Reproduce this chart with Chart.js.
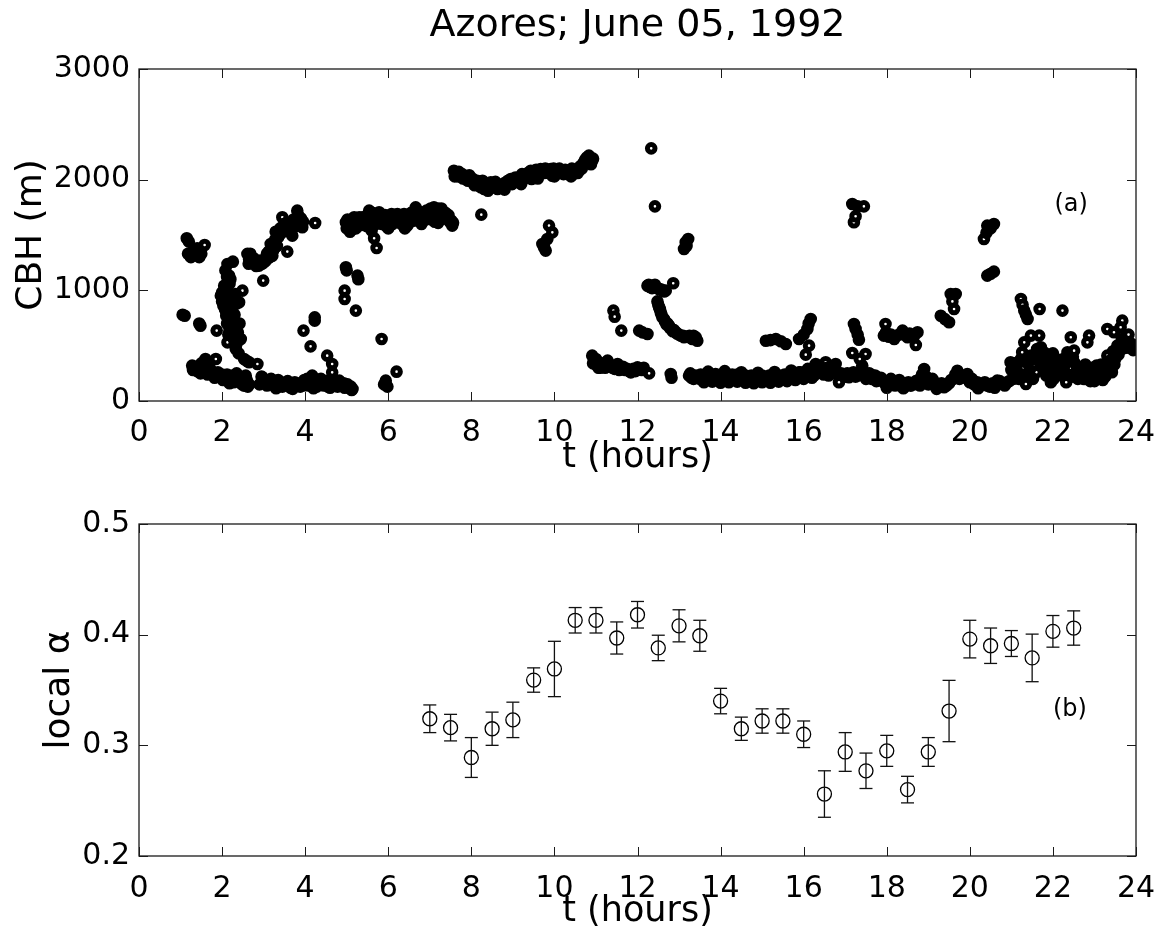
<!DOCTYPE html>
<html>
<head>
<meta charset="utf-8">
<script src="https://cdn.jsdelivr.net/npm/chart.js@4/dist/chart.umd.min.js"></script>
<style>
  html,body{margin:0;padding:0;background:#fff;}
  body{width:1159px;height:945px;overflow:hidden;position:relative;}
  #w1{position:absolute;left:0;top:0;width:1159px;height:490px;}
  #w2{position:absolute;left:0;top:490px;width:1159px;height:455px;}
</style>
</head>
<body>
<div id="w1"><canvas id="c1" width="1159" height="490"></canvas></div>
<div id="w2"><canvas id="c2" width="1159" height="455"></canvas></div>
<script>
// ---------- tick labels ----------
const hourTicks = [0,2,4,6,8,10,12,14,16,18,20,22,24];
const cbhTicks = [0,1000,2000,3000];
const alphaTicks = [0.2,0.3,0.4,0.5];

// ---------- panel (a): cloud base height, [t (hours), CBH (m)] ----------
const cbhEarly = [[1.05,780],[1.1,770],[1.15,1470],[1.2,1440],[1.18,1330],[1.25,1300],[1.3,1350],[1.35,1320],[1.4,1380],[1.45,1300],[1.5,1330],[1.58,1410],[1.48,680],[1.45,700],[1.87,636]];
const cbhLowBand1 = [[1.28,320],[1.33,300],[1.38,310],[1.45,280],[1.5,300],[1.55,270],[1.6,380],[1.62,260],[1.68,280],[1.72,250],[1.78,240],[1.85,380],[1.85,230],[1.9,260],[1.95,220],[2.0,240],[2.05,200],[2.1,210],[2.15,180],[2.2,200],[2.25,230],[2.3,190],[2.35,250],[2.4,210],[2.45,170],[2.5,200],[2.55,150],[2.6,180],[2.62,130],[1.7,300],[1.5,340],
  [1.3,280],[1.4,270],[1.48,250],[1.58,300],[1.65,240],[1.75,270],[1.82,210],[1.92,230],[2.02,190],[2.12,240],[2.18,160],[2.28,170],[2.38,180],[2.48,150],[2.58,200],[2.65,150]];
const cbhColumn = [[2.13,1238],[2.26,1259],[2.17,1133],[2.2,1100],[2.1,1050],[2.05,1042],[2.0,980],[1.97,952],[2.0,900],[2.03,862],[2.07,830],[2.1,800],[2.1,771],[2.15,740],[2.17,681],[2.2,660],[2.29,696],[2.49,997],[2.41,892],[2.33,967],[2.35,880],[2.25,850],[2.3,780],[2.22,720],[2.13,530],[2.45,560],[2.2,621],[2.15,600],[2.33,470],[2.4,430],[2.53,380],[2.6,360],[2.65,350],[2.85,335],[2.57,229],[2.53,139],[2.3,900],[2.25,960],[2.15,950],[2.05,1000],
  [2.08,1180],[2.12,1120],[2.18,1060],[2.02,940],[2.08,900],[2.12,870],[2.18,820],[2.22,780],[2.12,700],[2.18,640],[2.25,610],[2.28,560],[2.35,520],[2.38,620],[2.42,700],[2.3,650]];
const cbhRise = [[2.61,1329],[2.65,1280],[2.7,1300],[2.73,1253],[2.8,1240],[2.85,1260],[2.89,1223],[2.99,1088],[3.0,1250],[3.05,1268],[3.1,1290],[3.12,1350],[3.17,1419],[3.2,1380],[3.21,1313],[3.25,1420],[3.29,1530],[3.35,1480],[3.4,1560],[3.45,1660],[3.5,1600],[3.53,1554],[3.57,1350],[3.6,1540],[3.65,1580],[3.69,1494],[3.75,1620],[3.81,1720],[3.83,1680],[3.85,1645],[3.88,1600],[3.93,1570],[4.24,1609],
  [2.64,1240],[2.68,1330],[2.76,1290],[2.82,1220],[2.92,1270],[2.96,1240],[3.08,1330],[3.15,1300],[3.23,1360],[3.28,1460],[3.32,1400],[3.38,1500],[3.43,1520],[3.48,1560],[3.55,1610],[3.63,1530],[3.7,1570],[3.72,1640],[3.78,1580],[3.9,1650],[3.95,1620]];
const cbhLowBand2 = [[2.9,150],[2.95,220],[2.97,214],[3.05,170],[3.1,150],[3.15,180],[3.2,160],[3.25,180],[3.3,150],[3.37,154],[3.42,170],[3.5,140],[3.55,160],[3.61,139],[3.68,150],[3.75,170],[3.8,140],[3.85,154],[3.9,160],[3.95,140],[4.01,169],[4.05,200],[4.1,180],[4.17,229],[4.2,150],[4.25,180],[4.33,154],[4.4,170],[4.45,140],[4.5,180],[4.57,169],[4.62,150],[4.7,140],[4.75,170],[4.82,184],[4.88,140],[4.93,160],[4.98,139],[5.05,120],[5.1,130],[5.14,109],[4.53,410],[4.65,335],[4.65,259],
  [3.0,190],[3.08,140],[3.18,200],[3.28,130],[3.35,190],[3.45,130],[3.58,180],[3.65,120],[3.72,140],[3.88,130],[3.98,190],[4.08,140],[4.15,190],[4.28,130],[4.38,200],[4.48,160],[4.55,130],[4.68,180],[4.78,130],[4.85,160],[4.95,120],[5.02,150],[5.12,100]];
const cbhScatter1 = [[3.96,636],[4.13,494],[4.23,726],[4.23,756],[4.98,1208],[5.0,1180],[5.26,1133],[5.28,1100],[4.95,997],[4.95,922],[5.22,817],[5.84,560],[5.94,184],[5.9,150],[5.98,130],[6.2,265]];
const cbhBandMid = [[4.98,1615],[5.0,1560],[5.05,1580],[5.1,1620],[5.14,1554],[5.2,1600],[5.25,1640],[5.3,1660],[5.35,1590],[5.4,1620],[5.45,1650],[5.5,1610],[5.54,1720],[5.6,1640],[5.65,1680],[5.7,1600],[5.78,1705],[5.82,1630],[5.88,1660],[5.94,1585],[5.98,1615],[6.05,1640],[6.1,1600],[6.15,1660],[6.22,1690],[6.28,1620],[6.35,1650],[6.4,1600],[6.46,1585],[6.52,1640],[6.58,1680],[6.66,1750],[6.72,1660],[6.8,1700],[6.86,1660],[6.92,1720],[7.0,1690],[7.05,1640],[7.1,1750],[7.15,1700],[7.2,1740],[7.25,1680],[7.3,1705],[7.35,1660],[7.42,1645],[7.48,1620],[7.54,1585],[5.66,1470],[5.72,1383],
  [5.02,1640],[5.08,1530],[5.18,1660],[5.22,1560],[5.32,1610],[5.38,1660],[5.48,1580],[5.52,1670],[5.58,1600],[5.62,1700],[5.75,1640],[5.85,1600],[5.92,1680],[6.02,1590],[6.08,1690],[6.18,1620],[6.25,1650],[6.32,1600],[6.38,1690],[6.44,1640],[6.5,1610],[6.55,1700],[6.62,1630],[6.7,1720],[6.75,1640],[6.83,1680],[6.9,1640],[6.96,1700],[7.02,1740],[7.08,1680],[7.12,1620],[7.18,1690],[7.22,1650],[7.28,1740],[7.38,1700],[7.45,1680],[7.52,1630],[7.56,1610]];
const cbhBandHigh = [[8.24,1684],[7.58,2081],[7.62,2050],[7.68,2030],[7.74,2036],[7.8,2010],[7.85,2030],[7.92,1990],[7.98,2006],[8.05,1970],[8.1,1990],[8.17,1950],[8.23,1931],[8.3,1960],[8.31,1916],[8.38,1940],[8.47,1976],[8.55,1950],[8.63,1916],[8.71,1946],[8.8,1970],[8.88,1990],[8.95,2006],[9.02,1980],[9.1,2010],[9.19,2021],[9.25,2000],[9.32,2040],[9.43,2081],[9.45,2006],[9.52,2050],[9.6,2070],[9.67,2096],[9.75,2060],[9.82,2080],[9.91,2096],[9.95,2036],[10.02,2070],[10.1,2090],[10.15,2081],[10.22,2050],[10.3,2080],[10.39,2081],[10.45,2050],[10.52,2090],[10.59,2081],[10.62,2120],[10.71,2157],[10.78,2200],[10.83,2217],[10.91,2172],[10.88,2140],[9.87,1585],[9.95,1524],[9.83,1464],[9.71,1419],[9.79,1359],[9.75,1390],
  [7.6,2030],[7.7,2070],[7.78,2050],[7.88,2000],[7.95,2040],[8.02,2010],[8.08,1950],[8.14,1990],[8.2,1960],[8.27,1990],[8.35,1920],[8.42,1960],[8.5,1930],[8.58,1980],[8.66,1950],[8.75,1930],[8.84,1960],[8.92,1980],[8.98,1960],[9.06,2020],[9.14,1990],[9.22,2050],[9.28,2020],[9.36,2060],[9.4,2030],[9.48,2060],[9.56,2090],[9.63,2050],[9.7,2080],[9.78,2100],[9.86,2060],[9.98,2100],[10.06,2060],[10.12,2100],[10.18,2060],[10.26,2090],[10.34,2060],[10.42,2100],[10.48,2070],[10.56,2060],[10.66,2100],[10.74,2180],[10.8,2160],[10.86,2200],[10.93,2190]];
const cbhMidday = [[10.91,410],[10.95,370],[11.03,320],[11.1,300],[11.18,330],[11.28,365],[11.35,310],[11.45,290],[11.52,335],[11.6,300],[11.7,280],[11.84,259],[11.9,290],[11.42,817],[11.45,762],[11.61,636],[12.0,304],[12.05,290],[12.1,280],[12.15,300],[12.28,250],[12.33,2283],[12.42,1759],[13.16,1434],[13.12,1374],[13.22,1464],[13.18,1400],[12.24,1042],[12.3,1030],[12.38,1040],[12.44,1027],[12.52,1010],[12.6,1000],[12.68,997],[12.86,1064],[12.04,636],[12.12,620],[12.24,606],[12.5,870],[12.52,847],[12.56,800],[12.6,756],[12.66,720],[12.72,700],[12.76,681],[12.82,650],[12.88,640],[12.92,621],[13.0,600],[13.05,590],[13.12,576],[13.2,580],[13.28,570],[13.35,590],[13.4,576],[13.44,545],
  [10.93,340],[11.0,380],[11.06,300],[11.14,340],[11.22,300],[11.3,330],[11.4,300],[11.48,320],[11.56,280],[11.65,310],[11.75,290],[11.8,270],[11.95,270],
  [12.48,900],[12.54,830],[12.58,780],[12.64,740],[12.7,690],[12.78,660],[12.85,630],[12.95,610],[13.1,590],[13.25,590],[13.32,560],[13.38,560],
  [12.27,1050],[12.35,1020],[12.42,1050],[12.48,1020],[12.56,1010],[12.64,990]];
const cbhLowBand3 = [[12.8,244],[12.82,210],[13.24,229],[13.3,210],[13.4,230],[13.5,200],[13.56,214],[13.65,230],[13.72,200],[13.8,220],[13.88,244],[13.95,210],[14.05,230],[14.12,200],[14.2,214],[14.28,240],[14.35,200],[14.45,220],[14.53,199],[14.6,230],[14.7,210],[14.78,190],[14.85,184],[14.92,210],[15.0,230],[15.08,200],[15.17,229],[15.25,210],[15.33,205],[15.4,230],[15.5,210],[15.57,229],[15.65,240],[15.72,210],[15.8,250],[15.89,259],[15.95,230],[16.05,260],[16.13,244],[16.2,210],[16.29,335],[16.35,300],[16.45,270],[16.53,350],[16.6,230],[16.7,280],[16.77,335],[16.85,169],[16.9,250],[17.0,220],[17.09,214],[17.2,260],[17.3,230],[17.41,290],[17.5,200],[17.58,250],[17.65,199],[17.72,230],[17.8,210],
  [13.27,250],[13.35,200],[13.45,220],[13.52,240],[13.6,200],[13.68,220],[13.76,240],[13.84,205],[13.92,230],[14.0,200],[14.08,240],[14.16,220],[14.24,195],[14.32,225],[14.4,240],[14.48,205],[14.56,220],[14.65,195],[14.74,230],[14.82,205],[14.88,225],[14.96,195],[15.04,220],[15.12,210],[15.2,195],[15.28,235],[15.36,215],[15.45,200],[15.54,240],[15.6,210],[15.68,220],[15.76,230],[15.84,240],[15.92,260],[16.0,240],[16.08,220],[16.16,250],[16.25,230],[16.32,280],[16.4,300],[16.48,240],[16.56,300],[16.65,260],[16.74,300],[16.82,240],[16.95,230],[17.05,250],[17.14,230],[17.25,220],[17.36,250],[17.46,230],[17.55,220],[17.62,240],[17.75,200]];
const cbhAfternoon = [[15.09,545],[15.2,550],[15.33,560],[15.45,540],[15.57,515],[16.17,741],[16.12,700],[16.09,651],[16.0,600],[15.89,560],[16.13,500],[16.05,419],[17.17,1780],[17.3,1760],[17.45,1759],[17.21,1615],[17.25,1669],[17.21,696],[17.25,651],[17.3,600],[17.33,554],[17.17,434],[17.49,425],[17.41,320],[17.35,380]];
const cbhLowBand4 = [[17.69,214],[17.8,190],[17.93,169],[18.05,180],[18.15,160],[18.26,154],[18.35,170],[18.45,150],[18.58,139],[18.7,180],[18.8,200],[18.9,289],[18.95,220],[19.05,190],[19.14,169],[19.25,150],[19.38,124],[19.5,160],[19.6,200],[19.7,274],[19.8,230],[19.94,244],[20.05,200],[20.18,169],[20.3,150],[20.42,139],[20.55,160],[20.66,184],[20.78,160],[20.9,169],
  [17.75,180],[17.86,210],[17.98,150],[18.1,200],[18.2,140],[18.3,190],[18.4,140],[18.52,170],[18.64,150],[18.75,150],[18.85,240],[19.0,150],[19.1,200],[19.2,130],[19.32,160],[19.44,140],[19.55,190],[19.65,240],[19.75,200],[19.88,210],[20.0,170],[20.1,150],[20.24,140],[20.36,170],[20.48,130],[20.6,150],[20.72,180],[20.84,140],[20.95,180]];
const cbhEvening = [[20.98,350],[21.05,200],[21.12,260],[21.23,380],[21.3,300],[21.35,154],[21.4,240],[21.47,410],[21.55,330],[21.6,260],[21.65,420],[21.71,485],[21.75,380],[21.8,300],[21.87,350],[21.92,250],[21.95,169],[22.0,430],[22.05,320],[22.1,250],[22.19,289],[22.25,380],[22.3,220],[22.35,440],[22.42,300],[22.51,350],[22.55,250],[22.6,200],[22.68,300],[22.75,199],[22.82,260],[22.9,180],[22.99,229],[23.05,320],[23.12,280],[23.2,190],[23.23,259],[23.31,410],[23.38,300],[23.45,450],[23.5,380],[23.55,500],[23.62,460],[23.7,520],[23.79,530],[23.85,480],[23.91,485],[23.95,500],
  [21.0,280],[21.08,340],[21.18,200],[21.26,440],[21.36,350],[21.44,280],[21.52,200],[21.58,380],[21.62,470],[21.7,330],[21.78,440],[21.84,230],[21.9,420],[21.98,380],[22.02,200],[22.08,380],[22.14,330],[22.22,230],[22.28,320],[22.32,170],[22.38,360],[22.46,220],[22.48,400],[22.58,300],[22.64,240],[22.72,260],[22.78,330],[22.86,220],[22.94,300],[23.0,180],[23.08,240],[23.16,330],[23.26,220],[23.35,360],[23.42,260],[23.48,330],[23.58,420],[23.66,560],[23.74,480],[23.82,600],[23.88,520],[23.93,460]];
const cbhUpperEvening = [[17.97,696],[17.93,591],[18.05,580],[18.18,560],[18.3,600],[18.38,636],[18.5,576],[18.6,590],[18.74,621],[18.7,506],[19.54,967],[19.66,967],[19.62,832],[19.58,900],[19.3,771],[19.4,740],[19.5,711],[20.42,1585],[20.5,1560],[20.58,1600],[20.34,1464],[20.4,1520],[20.42,1133],[20.5,1150],[20.58,1169],[21.23,922],[21.27,870],[21.31,817],[21.35,780],[21.39,741],[21.68,832],[22.23,817],[21.31,530],[21.47,591],[21.67,591],[22.43,576],[22.51,455],[22.87,591],[22.83,530],[23.31,651],[23.67,726],[23.63,666],[23.47,621],
  [17.98,620],[18.1,600],[18.22,590],[18.44,600],[18.55,610],[18.65,580]];
const cbhBandEdges = [[13.6,170],[13.8,175],[14.0,165],[14.2,170],[14.4,175],[14.6,165],[14.8,160],[15.0,170],[15.2,165],[15.4,175],[15.6,180],[15.8,190],[16.0,200],[13.7,265],[14.1,270],[14.5,260],[14.9,255],[15.3,262],[15.7,275],[16.1,290],[18.0,120],[18.4,115],[18.8,140],[19.2,110],[20.2,115],[20.6,120],[3.3,115],[3.7,110],[4.2,115],[4.6,120],[5.6,1540],[6.0,1560],[6.4,1560],[6.8,1600],[7.2,1610],[8.4,1900],[8.8,1910],[9.2,1960],[9.6,2010],[10.0,2030],[10.4,2030]];

// ---------- panel (b): local alpha with error bars ----------
const alphaTime  = [7,7.5,8,8.5,9,9.5,10,10.5,11,11.5,12,12.5,13,13.5,14,14.5,15,15.5,16,16.5,17,17.5,18,18.5,19,19.5,20,20.5,21,21.5,22,22.5];
const alphaValue = [0.324,0.316,0.289,0.315,0.323,0.359,0.369,0.413,0.413,0.397,0.418,0.388,0.408,0.399,0.340,0.315,0.322,0.322,0.310,0.256,0.294,0.277,0.295,0.260,0.294,0.331,0.396,0.390,0.392,0.379,0.403,0.406];
const alphaError = [0.0125,0.012,0.018,0.015,0.016,0.011,0.025,0.0115,0.0115,0.0145,0.012,0.0115,0.0145,0.014,0.0115,0.0105,0.011,0.011,0.012,0.021,0.0175,0.016,0.014,0.012,0.013,0.0277,0.017,0.016,0.0117,0.0215,0.0143,0.0155];

// panel tags
const tagA = {text:'(a)', t:22.44, v:1771};
const tagB = {text:'(b)', t:22.41, v:0.332};

// ---------- helpers ----------
const FONT = 'DejaVu Sans';
Chart.defaults.font.family = FONT;
Chart.defaults.color = '#000';

const cbhAll = [].concat(cbhEarly, cbhLowBand1, cbhColumn, cbhRise, cbhLowBand2, cbhScatter1, cbhBandMid,
  cbhBandHigh, cbhMidday, cbhLowBand3, cbhAfternoon, cbhLowBand4, cbhEvening, cbhUpperEvening, cbhBandEdges)
  .map(p => ({x:p[0], y:p[1]}));

// Overlapping markers hide each other's centre hole; isolated markers keep it.
let ringCentres = null;
function ringCentre(ctx){
  if (ctx.type !== 'data') return '#fff';
  const chart = ctx.chart;
  if (!ringCentres) {
    const xs = chart.scales.x, ys = chart.scales.y;
    if (!chart.chartArea || !xs || !ys) return '#fff';
    const px = cbhAll.map(p => [xs.getPixelForValue(p.x), ys.getPixelForValue(p.y)]);
    if (!px.every(a => isFinite(a[0]) && isFinite(a[1])) || xs.width < 100 || ys.height < 100) return '#fff';
    ringCentres = px.map((a, i) => px.some((b, j) => j !== i &&
      Math.abs(a[0] - b[0]) < 5.5 && Math.abs(a[1] - b[1]) < 5.5) ? '#000' : '#fff');
  }
  return ringCentres[ctx.dataIndex];
}

const framePlugin = {
  id:'frame',
  afterDraw(chart){
    const {ctx, chartArea:a, scales:{x, y}} = chart;
    ctx.save();
    ctx.strokeStyle = '#1a1a1a';
    ctx.lineWidth = 1.3;
    ctx.strokeRect(a.left, a.top, a.right - a.left, a.bottom - a.top);
    ctx.beginPath();
    const L = 9;
    x.ticks.forEach(tk => {
      const px = Math.round(x.getPixelForValue(tk.value)) + 0.5;
      ctx.moveTo(px, a.bottom); ctx.lineTo(px, a.bottom - L);
      ctx.moveTo(px, a.top); ctx.lineTo(px, a.top + L);
    });
    y.ticks.forEach(tk => {
      const py = Math.round(y.getPixelForValue(tk.value)) + 0.5;
      ctx.moveTo(a.left, py); ctx.lineTo(a.left + L, py);
      ctx.moveTo(a.right, py); ctx.lineTo(a.right - L, py);
    });
    ctx.lineWidth = 1;
    ctx.stroke();
    ctx.restore();
  }
};
function tagPlugin(tag){
  return {
    id:'tag',
    afterDraw(chart){
      const {ctx, scales:{x, y}} = chart;
      ctx.save();
      ctx.font = '24px "' + FONT + '"';
      ctx.fillStyle = '#000';
      ctx.textAlign = 'center';
      ctx.textBaseline = 'middle';
      ctx.fillText(tag.text, x.getPixelForValue(tag.t), y.getPixelForValue(tag.v));
      ctx.restore();
    }
  };
}
function xScale(titlePad, labelPad){
  return {
    type:'linear', min:0, max:24,
    grid:{display:false, drawTicks:false, tickLength:0},
    border:{display:false},
    afterBuildTicks(s){ s.ticks = hourTicks.map(v => ({value:v})); },
    afterFit(s){ s.height = 89; s.paddingLeft = 0; s.paddingRight = 0; },
    ticks:{font:{size:30}, color:'#000', padding:labelPad, maxRotation:0, autoSkip:false, callback:v => String(v)},
    title:{display:true, text:'t (hours)', color:'#000', font:{size:35}, padding:{top:titlePad, bottom:titlePad}}
  };
}
function yScale(min, max, tickVals, label, titlePad){
  return {
    type:'linear', min:min, max:max,
    grid:{display:false, drawTicks:false, tickLength:0},
    border:{display:false},
    afterBuildTicks(s){ s.ticks = tickVals.map(v => ({value:v})); },
    afterFit(s){ s.width = 139; s.paddingTop = 0; s.paddingBottom = 0; },
    ticks:{font:{size:30}, color:'#000', padding:9, autoSkip:false, callback:v => String(v)},
    title:{display:true, text:label, color:'#000', font:{size:36}, padding:{top:titlePad, bottom:titlePad}}
  };
}

// ---------- chart (a) ----------
const chartA = new Chart(document.getElementById('c1'), {
  type:'scatter',
  data:{datasets:[{
    data:cbhAll,
    pointRadius:3.8,
    pointBorderWidth:5,
    pointBackgroundColor:ringCentre,
    pointBorderColor:'#000',
    showLine:false
  }]},
  options:{
    responsive:false, animation:false, events:[],
    layout:{padding:{left:0, right:23, top:0, bottom:0}},
    plugins:{
      legend:{display:false}, tooltip:{enabled:false},
      title:{display:true, text:'Azores; June 05, 1992', color:'#000', fullSize:false,
        font:{size:38, weight:'normal'}, padding:{top:3, bottom:20.4}}
    },
    scales:{
      x:xScale(11, 14),
      y:yScale(0, 3000, cbhTicks, 'CBH (m)', 10)
    }
  },
  plugins:[framePlugin, tagPlugin(tagA)]
});
chartA.update('none');

// ---------- chart (b) ----------
const errSegments = [];
alphaTime.forEach((t, i) => {
  errSegments.push({x:t, y:alphaValue[i] - alphaError[i]});
  errSegments.push({x:t, y:alphaValue[i] + alphaError[i]});
  errSegments.push({x:t, y:null});
});
const alphaPoints = alphaTime.map((t, i) => ({x:t, y:alphaValue[i]}));

new Chart(document.getElementById('c2'), {
  type:'scatter',
  data:{datasets:[
    {
      type:'line', data:errSegments, spanGaps:false, showLine:true,
      borderColor:'#111', borderWidth:1.3, fill:false,
      pointStyle:'line', pointRadius:6.5, pointBorderWidth:1.3, pointBorderColor:'#111'
    },
    {
      data:alphaPoints, pointRadius:7, pointBorderWidth:1.3,
      pointBackgroundColor:'rgba(0,0,0,0)', pointBorderColor:'#000', showLine:false
    }
  ]},
  options:{
    responsive:false, animation:false, events:[],
    layout:{padding:{left:0, right:23, top:34, bottom:0}},
    plugins:{legend:{display:false}, tooltip:{enabled:false}},
    scales:{
      x:xScale(12, 15),
      y:yScale(0.2, 0.5, alphaTicks, 'local α', 38)
    }
  },
  plugins:[framePlugin, tagPlugin(tagB)]
});
</script>
</body>
</html>
